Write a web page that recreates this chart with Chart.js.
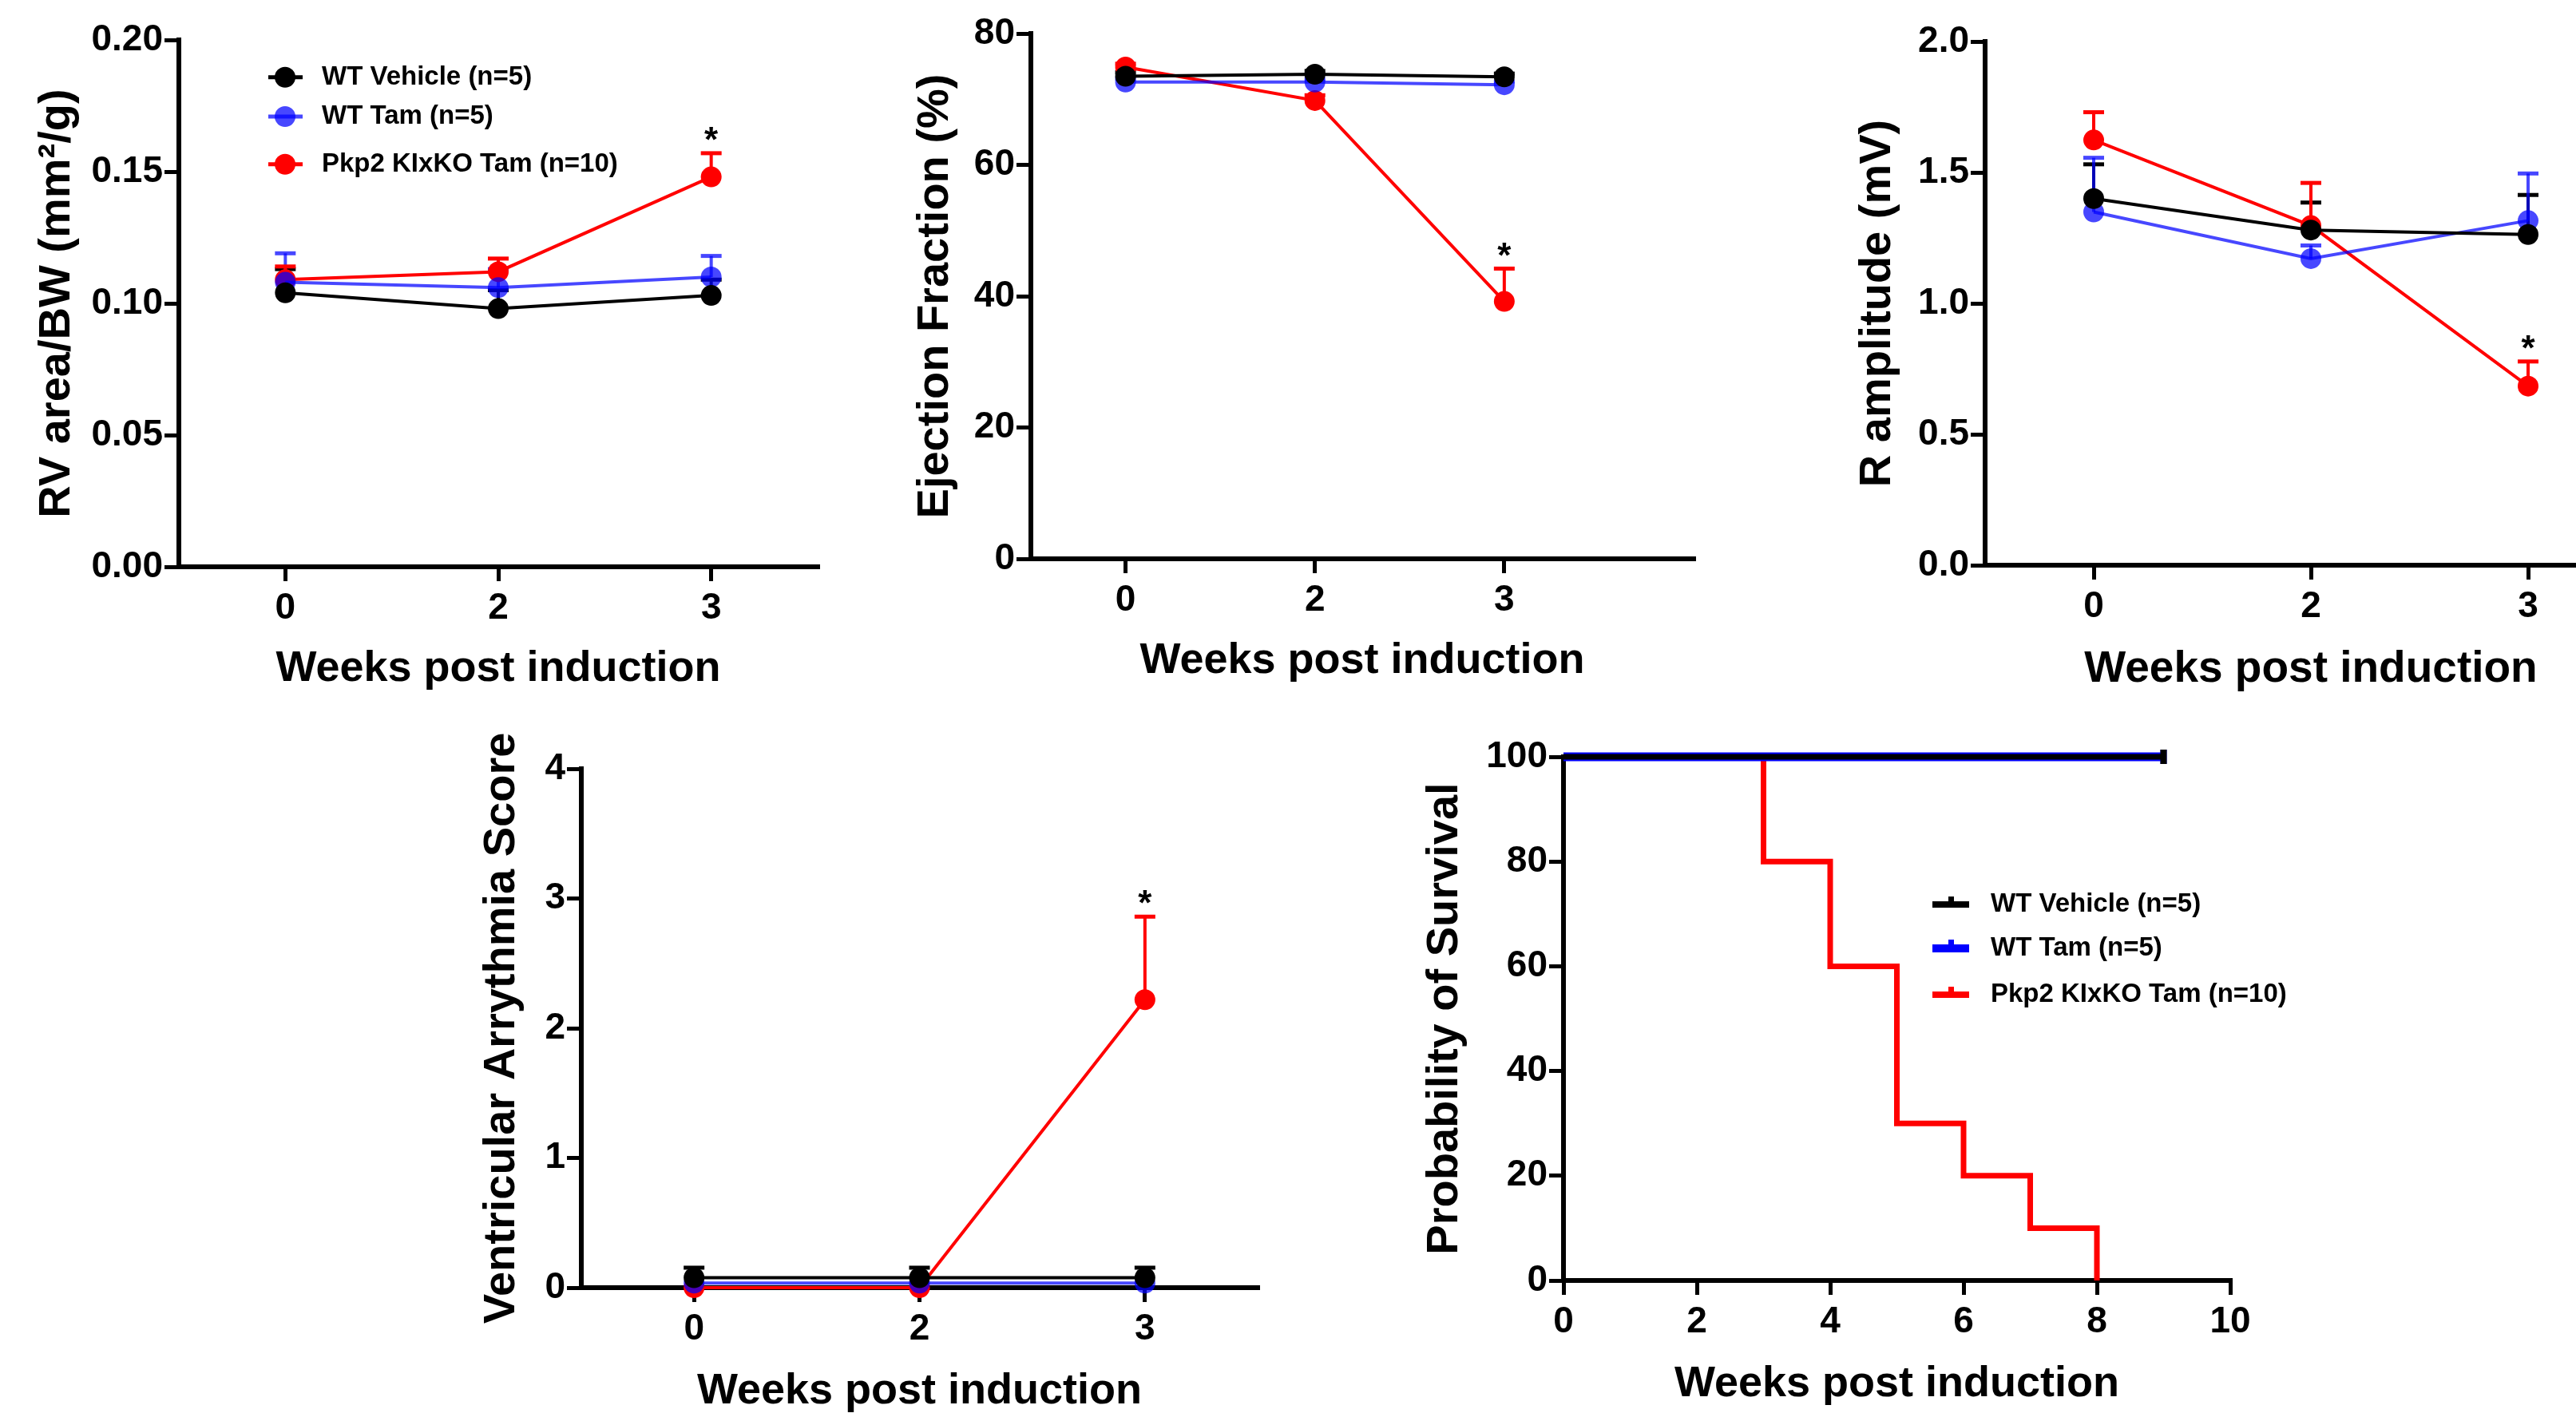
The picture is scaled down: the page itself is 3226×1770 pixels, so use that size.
<!DOCTYPE html>
<html>
<head>
<meta charset="utf-8">
<script src="https://cdn.jsdelivr.net/npm/chart.js@4.4.0/dist/chart.umd.min.js"></script>
<style>
html, body { margin: 0; padding: 0; background: #fff; overflow: hidden; }
body { width: 3226px; height: 1770px; position: relative; }
canvas { position: absolute; }
</style>
</head>
<body>
<canvas id="rv" width="1100" height="880" style="left:0px;top:0px"></canvas>
<canvas id="ef" width="1100" height="880" style="left:1100px;top:0px"></canvas>
<canvas id="ramp" width="1100" height="880" style="left:2250px;top:0px"></canvas>
<canvas id="va" width="1100" height="890" style="left:550px;top:880px"></canvas>
<canvas id="surv" width="1200" height="890" style="left:1750px;top:880px"></canvas>
<script>
var weeks = ["0", "2", "3"];
var groups = ["WT Vehicle (n=5)", "WT Tam (n=5)", "Pkp2 KIxKO Tam (n=10)"];

// RV area / BW
var rvVehicle = [0.104, 0.098, 0.103];
var rvVehicleSem = [0.009, 0.007, 0.006];
var rvTam = [0.108, 0.106, 0.110];
var rvTamSem = [0.011, 0.007, 0.008];
var rvKo = [0.109, 0.112, 0.148];
var rvKoSem = [0.005, 0.005, 0.009];
var rvTicks = [0, 0.05, 0.10, 0.15, 0.20];

// ejection fraction
var efVehicle = [73.5, 73.8, 73.4];
var efVehicleSem = [0.6, 0.5, 0.5];
var efTam = [72.6, 72.6, 72.2];
var efTamSem = [0.5, 0.5, 0.5];
var efKo = [74.9, 69.8, 39.2];
var efKoSem = [0.5, 0.8, 5.0];
var efTicks = [0, 20, 40, 60, 80];

// R amplitude
var raVehicle = [1.40, 1.28, 1.263];
var raVehicleSem = [0.131, 0.105, 0.151];
var raTam = [1.349, 1.171, 1.316];
var raTamSem = [0.207, 0.05, 0.18];
var raKo = [1.624, 1.297, 0.684];
var raKoSem = [0.106, 0.163, 0.094];
var raTicks = [0, 0.5, 1.0, 1.5, 2.0];

// ventricular arrythmia score
var vaVehicle = [0.077, 0.077, 0.077];
var vaVehicleSem = [0.077, 0.077, 0.077];
var vaTam = [0.035, 0.035, 0.035];
var vaTamSem = [0, 0, 0];
var vaKo = [0, 0, 2.22];
var vaKoSem = [0, 0, 0.64];
var vaTicks = [0, 1, 2, 3, 4];

// survival
var survVehicleWeeks = [0, 9];
var survVehicle = [100, 100];
var survTamWeeks = [0, 9];
var survTam = [100, 100];
var survKoWeeks = [0, 3, 4, 5, 6, 7, 8];
var survKo = [100, 80, 60, 30, 20, 10, 0];
var survXTicks = [0, 2, 4, 6, 8, 10];
var survYTicks = [0, 20, 40, 60, 80, 100];

var FONT = "'Liberation Sans', Arial, sans-serif";
var lineColors = ["#000000", "rgba(0,0,255,0.72)", "#ff0000"];
var kmColors = ["#000000", "#0000ff", "#ff0000"];

function pts(vals) {
    return vals.map(function (v, i) { return { x: i, y: v }; });
}
function xy(xs, ys) {
    return xs.map(function (x, i) { return { x: x, y: ys[i] }; });
}

function axis(title, titleSize, titlePad, tickPad, fitFn) {
    return {
        type: "linear",
        bounds: "data",
        border: { display: true, color: "#000", width: 6 },
        grid: { display: true, drawOnChartArea: false, drawTicks: true, tickLength: 18, color: "#000", lineWidth: 5 },
        ticks: { color: "#000", padding: tickPad, font: { family: FONT, size: 46, weight: "bold" } },
        title: { display: true, text: title, color: "#000", padding: titlePad,
                 font: { family: FONT, size: titleSize, weight: "bold", lineHeight: 1.2 } },
        afterFit: fitFn
    };
}

// error bars (upper SEM only, as in the figure)
var errorBars = {
    id: "errorBars",
    beforeDatasetsDraw: function (chart) {
        var ctx = chart.ctx, xs = chart.scales.x, ys = chart.scales.y;
        chart.data.datasets.forEach(function (ds) {
            if (!ds.sem) return;
            ds.data.forEach(function (p, i) {
                var e = ds.sem[i];
                if (!e) return;
                var x = xs.getPixelForValue(p.x);
                var y0 = ys.getPixelForValue(p.y);
                var y1 = ys.getPixelForValue(p.y + e);
                ctx.save();
                ctx.strokeStyle = ds.borderColor;
                ctx.lineWidth = 4;
                ctx.beginPath(); ctx.moveTo(x, y0); ctx.lineTo(x, y1); ctx.stroke();
                ctx.lineWidth = 5;
                ctx.beginPath(); ctx.moveTo(x - 13, y1); ctx.lineTo(x + 13, y1); ctx.stroke();
                ctx.restore();
            });
        });
    }
};

function stars(dsIndex, pointIndex) {
    return {
        id: "stars",
        afterDatasetsDraw: function (chart) {
            var ds = chart.data.datasets[dsIndex], p = ds.data[pointIndex];
            var x = chart.scales.x.getPixelForValue(p.x);
            var y = chart.scales.y.getPixelForValue(p.y + ds.sem[pointIndex]);
            var ctx = chart.ctx;
            ctx.save();
            ctx.fillStyle = "#000";
            ctx.font = "bold 44px " + FONT;
            ctx.textAlign = "center";
            ctx.textBaseline = "middle";
            ctx.fillText("*", x, y - 14);
            ctx.restore();
        }
    };
}

function markerLegend(x, rows) {
    return {
        id: "markerLegend",
        afterDraw: function (chart) {
            var ctx = chart.ctx;
            chart.data.datasets.forEach(function (ds, k) {
                var y = rows[k];
                ctx.save();
                ctx.fillStyle = ds.backgroundColor;
                ctx.beginPath(); ctx.arc(x, y, 13, 0, 2 * Math.PI); ctx.fill();
                ctx.strokeStyle = ds.borderColor;
                ctx.lineWidth = 5;
                ctx.beginPath(); ctx.moveTo(x - 21, y); ctx.lineTo(x + 22, y); ctx.stroke();
                ctx.fillStyle = "#000";
                ctx.font = "bold 33px " + FONT;
                ctx.textBaseline = "middle";
                ctx.fillText(ds.label, x + 46, y);
                ctx.restore();
            });
        }
    };
}

function kmLegend(x, rows) {
    return {
        id: "kmLegend",
        afterDraw: function (chart) {
            var ctx = chart.ctx;
            chart.data.datasets.forEach(function (ds, k) {
                var y = rows[k];
                var h = k === 1 ? 10 : 8;
                ctx.save();
                ctx.fillStyle = ds.borderColor;
                ctx.fillRect(x, y - h / 2, 46, h);
                ctx.fillRect(x + 20, y - h / 2 - 6, 7, 6);
                ctx.fillStyle = "#000";
                ctx.font = "bold 33px " + FONT;
                ctx.textBaseline = "middle";
                ctx.fillText(ds.label, x + 73, y);
                ctx.restore();
            });
        }
    };
}

function groupChart(id, o) {
    var sets = [[o.vehicle, o.vehicleSem], [o.tam, o.tamSem], [o.ko, o.koSem]];
    var x = axis("Weeks post induction", o.xTitleSize || 54, { top: 0, bottom: o.xTitlePad }, 7,
                 function (s) { s.height = o.xH; });
    x.min = -0.5;
    x.max = o.xMax;
    x.afterBuildTicks = function (a) { a.ticks = weeks.map(function (w, i) { return { value: i }; }); };
    x.ticks.callback = function (v) { return weeks[v]; };

    var y = axis(o.yTitle, 56, { top: o.yTitlePad, bottom: 0 }, 2, function (s) { s.width = o.yW; });
    y.min = 0;
    y.max = o.yTicks[o.yTicks.length - 1];
    y.afterBuildTicks = function (a) { a.ticks = o.yTicks.map(function (v) { return { value: v }; }); };
    y.ticks.callback = function (v) { return v.toFixed(o.dec); };

    var plugins = [errorBars, stars(2, 2)];
    if (o.legend) plugins.push(o.legend);

    return new Chart(document.getElementById(id), {
        type: "line",
        data: {
            datasets: sets.map(function (s, k) {
                return {
                    label: groups[k],
                    data: pts(s[0]),
                    sem: s[1],
                    borderColor: lineColors[k],
                    backgroundColor: lineColors[k],
                    borderWidth: 4,
                    pointRadius: 13,
                    pointHoverRadius: 13,
                    pointBorderWidth: 0,
                    tension: 0,
                    clip: false
                };
            })
        },
        options: {
            responsive: false,
            animation: false,
            layout: { padding: o.pad },
            plugins: { legend: { display: false }, tooltip: { enabled: false } },
            scales: { x: x, y: y }
        },
        plugins: plugins
    });
}

groupChart("rv", {
    vehicle: rvVehicle, vehicleSem: rvVehicleSem, tam: rvTam, tamSem: rvTamSem, ko: rvKo, koSem: rvKoSem,
    yTicks: rvTicks, dec: 2, yTitle: "RV area/BW (mm\u00b2/g)",
    xMax: 2.5, yW: 224, xH: 170, pad: { left: 0, top: 50, right: 76, bottom: 0 },
    xTitlePad: 9, yTitlePad: 38,
    legend: markerLegend(357, [96.7, 146, 205.7])
});

groupChart("ef", {
    vehicle: efVehicle, vehicleSem: efVehicleSem, tam: efTam, tamSem: efTamSem, ko: efKo, koSem: efKoSem,
    yTicks: efTicks, dec: 0, yTitle: "Ejection Fraction (%)",
    xMax: 3, yW: 191, xH: 180, pad: { left: 0, top: 42, right: 79, bottom: 0 },
    xTitlePad: 19, yTitlePad: 38
});

groupChart("ramp", {
    vehicle: raVehicle, vehicleSem: raVehicleSem, tam: raTam, tamSem: raTamSem, ko: raKo, koSem: raKoSem,
    yTicks: raTicks, dec: 1, yTitle: "R amplitude (mV)", xTitleSize: 55,
    xMax: 2.5, yW: 236, xH: 172, pad: { left: 0, top: 52, right: 48, bottom: 0 },
    xTitlePad: 8, yTitlePad: 68
});

groupChart("va", {
    vehicle: vaVehicle, vehicleSem: vaVehicleSem, tam: vaTam, tamSem: vaTamSem, ko: vaKo, koSem: vaKoSem,
    yTicks: vaTicks, dec: 0, yTitle: "Ventricular Arrythmia Score",
    xMax: 2.5, yW: 178, xH: 157, pad: { left: 0, top: 83, right: 75, bottom: 0 },
    xTitlePad: -6, yTitlePad: 45
});

// Kaplan-Meier survival
(function () {
    var x = axis("Weeks post induction", 54, { top: 0, bottom: 3 }, 7, function (s) { s.height = 166; });
    x.min = 0;
    x.max = 10;
    x.afterBuildTicks = function (a) { a.ticks = survXTicks.map(function (v) { return { value: v }; }); };
    var y = axis("Probability of Survival", 56, { top: 26, bottom: 0 }, 2, function (s) { s.width = 208; });
    y.min = 0;
    y.max = 100;
    y.afterBuildTicks = function (a) { a.ticks = survYTicks.map(function (v) { return { value: v }; }); };

    var series = [[survVehicleWeeks, survVehicle, 7], [survTamWeeks, survTam, 11], [survKoWeeks, survKo, 7]];
    new Chart(document.getElementById("surv"), {
        type: "line",
        data: {
            datasets: series.map(function (s, k) {
                var radii = s[0].map(function (w, i) { return (k < 2 && i === s[0].length - 1) ? 9 : 0; });
                return {
                    label: groups[k],
                    data: xy(s[0], s[1]),
                    borderColor: kmColors[k],
                    backgroundColor: kmColors[k],
                    borderWidth: s[2],
                    stepped: "before",
                    pointStyle: "line",
                    pointRotation: 90,
                    pointRadius: radii,
                    pointHoverRadius: radii,
                    pointBorderWidth: 8,
                    pointBorderColor: kmColors[k],
                    clip: false
                };
            })
        },
        options: {
            responsive: false,
            animation: false,
            layout: { padding: { left: 0, top: 68, right: 157, bottom: 0 } },
            plugins: { legend: { display: false }, tooltip: { enabled: false } },
            scales: { x: x, y: y }
        },
        plugins: [kmLegend(670, [253, 308, 366])]
    });
})();
</script>
</body>
</html>
